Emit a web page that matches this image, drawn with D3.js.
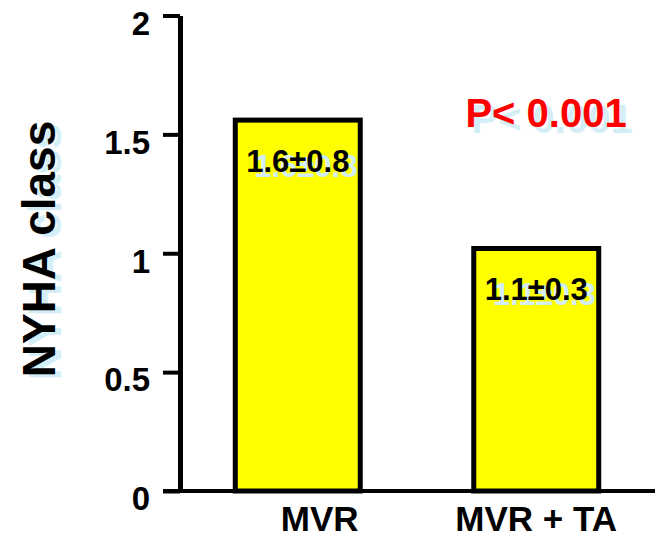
<!DOCTYPE html>
<html>
<head>
<meta charset="utf-8">
<script src="https://cdn.jsdelivr.net/npm/d3@7"></script>
<style>
  body { margin: 0; background: #fff; }
  svg text { font-family: "Liberation Sans", Arial, sans-serif; font-weight: bold; }
</style>
</head>
<body>
<div class="chart"></div>
<script>
let width = 659
let height = 535

// chart values
const groups = ["MVR", "MVR + TA"]
const means = [1.56, 1.02]
const barLabels = ["1.6±0.8", "1.1±0.3"]
const yTicks = [0, 0.5, 1, 1.5, 2]
const pText = "P< 0.001"
const yTitle = "NYHA class"

const shadow = "#d4eef7"

const svg = d3.select(".chart")
  .append("svg")
  .attr("width", width)
  .attr("height", height)

const x = d3.scaleBand()
  .domain(groups)
  .range([179, 655])
  .paddingInner(0.476)
  .paddingOuter(0.236)

const y = d3.scaleLinear()
  .domain([0, 2])
  .range([491, 15.5])

// bars
svg.selectAll(".bar")
  .data(groups)
  .enter()
  .append("rect")
  .attr("class", "bar")
  .attr("x", d => x(d))
  .attr("y", (d, i) => y(means[i]))
  .attr("width", x.bandwidth())
  .attr("height", (d, i) => y(0) - y(means[i]))
  .style("fill", "#ffff00")
  .style("stroke", "#000")
  .style("stroke-width", 5)

// value labels, with light shadow behind
const lab = svg.selectAll(".val")
  .data(groups)
  .enter()
  .append("g")
  .attr("transform", (d, i) => `translate(${x(d) + x.bandwidth() / 2},${y(means[i]) + 52})`)
lab.append("text")
  .attr("x", 8).attr("y", 5)
  .attr("text-anchor", "middle")
  .style("font-size", "31px")
  .style("fill", shadow)
  .text((d, i) => barLabels[i])
lab.append("text")
  .attr("text-anchor", "middle")
  .style("font-size", "31px")
  .style("fill", "#000")
  .text((d, i) => barLabels[i])

// baseline
svg.append("line")
  .attr("x1", 163).attr("x2", 655)
  .attr("y1", y(0)).attr("y2", y(0))
  .style("stroke", "#000")
  .style("stroke-width", 4)

// y axis
const yAxis = svg.append("g")
  .attr("transform", "translate(180,0)")
  .call(d3.axisLeft(y)
    .tickValues(yTicks)
    .tickFormat(d3.format("~g"))
    .tickSize(17)
    .tickSizeOuter(0)
    .tickPadding(13))
yAxis.select(".domain").style("stroke", "#000").style("stroke-width", 5)
yAxis.selectAll(".tick line").style("stroke", "#000").style("stroke-width", 4)
yAxis.selectAll(".tick text")
  .attr("dy", "0.57em")
  .style("font-size", "33px")
  .style("font-family", "'Liberation Sans', Arial, sans-serif")
  .style("font-weight", "bold")
  .style("fill", "#000")

// x labels
svg.selectAll(".xlab")
  .data(groups)
  .enter()
  .append("text")
  .attr("x", (d, i) => x(d) + x.bandwidth() / 2 + (i === 0 ? 22 : 0))
  .attr("y", 531)
  .attr("text-anchor", "middle")
  .style("font-size", "35px")
  .style("fill", "#000")
  .text(d => d)

// y title
svg.append("text")
  .attr("transform", "translate(61,252) rotate(-90)")
  .attr("text-anchor", "middle")
  .style("font-size", "46px")
  .style("fill", shadow)
  .text(yTitle)
svg.append("text")
  .attr("transform", "translate(55,249) rotate(-90)")
  .attr("text-anchor", "middle")
  .style("font-size", "46px")
  .style("fill", "#000")
  .text(yTitle)

// p value
svg.append("text")
  .attr("x", 552).attr("y", 133)
  .attr("text-anchor", "middle")
  .style("font-size", "40px")
  .style("fill", shadow)
  .text(pText)
svg.append("text")
  .attr("x", 546).attr("y", 127)
  .attr("text-anchor", "middle")
  .style("font-size", "40px")
  .style("fill", "#ff0000")
  .text(pText)
</script>
</body>
</html>
